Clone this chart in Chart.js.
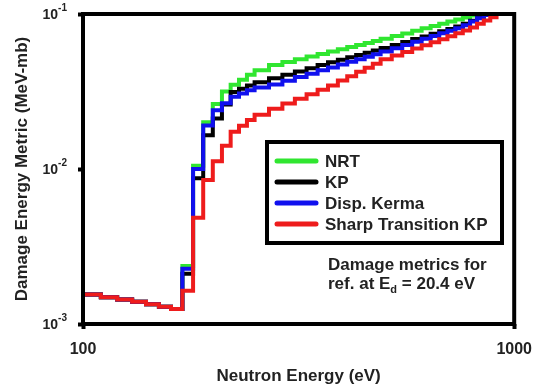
<!DOCTYPE html>
<html>
<head>
<meta charset="utf-8">
<script src="https://cdn.jsdelivr.net/npm/chart.js@4.4.1/dist/chart.umd.min.js"></script>
<style>
  html, body { margin: 0; padding: 0; background: #fff; }
  canvas { display: block; }
</style>
</head>
<body>
<canvas id="chart" width="543" height="387"></canvas>
<script>
// energy bin edges (eV), one more edge than values per series
const energyEdges = [100, 110, 120, 130, 140, 150, 160, 170, 180, 190, 200, 210, 220, 230, 240,
  250, 270, 290, 310, 330, 350, 370, 390, 410, 430, 450, 470, 490,
  520, 550, 580, 610, 640, 670, 700, 730, 760, 790, 820, 850, 880, 910, 940, 970, 1000];

// damage energy metric per bin (MeV-mb)
const nrt = [0.00155, 0.00149, 0.00144, 0.00139, 0.00134, 0.00129, 0.00125,
  0.00237, 0.0105, 0.0200, 0.0263, 0.0316, 0.0350, 0.0377, 0.0406,
  0.0434, 0.0468, 0.0490, 0.0511, 0.0532, 0.0553, 0.0573, 0.0593, 0.0612, 0.0632, 0.0651, 0.0669,
  0.0692, 0.0720, 0.0749, 0.0779, 0.0808, 0.0837, 0.0865, 0.0893, 0.0921, 0.0949, 0.0978, 0.1007, 0.1038, 0.107, 0.110, 0.113, 0.116];
const kp = [0.00155, 0.00149, 0.00144, 0.00139, 0.00134, 0.00129, 0.00125,
  0.00211, 0.0087, 0.0165, 0.0212, 0.0261, 0.0314, 0.0330, 0.0346,
  0.0363, 0.0385, 0.0405, 0.0426, 0.0447, 0.0468, 0.0488, 0.0507, 0.0526, 0.0544, 0.0563, 0.0581,
  0.0603, 0.0631, 0.0660, 0.0689, 0.0717, 0.0745, 0.0773, 0.0801, 0.0829, 0.0864, 0.0905, 0.0947, 0.0989, 0.1030, 0.107, 0.111, 0.115];
const dispKerma = [0.00155, 0.00149, 0.00144, 0.00139, 0.00134, 0.00129, 0.00125,
  0.00227, 0.0100, 0.0191, 0.0239, 0.0266, 0.0292, 0.0307, 0.0322,
  0.0336, 0.0351, 0.0371, 0.0392, 0.0412, 0.0433, 0.0452, 0.0472, 0.0492, 0.0511, 0.0530, 0.0549,
  0.0573, 0.0602, 0.0632, 0.0662, 0.0692, 0.0721, 0.0750, 0.0780, 0.0809, 0.0847, 0.0893, 0.0940, 0.0987, 0.103, 0.107, 0.111, 0.115];
const sharpKp = [0.00155, 0.00149, 0.00144, 0.00139, 0.00134, 0.00129, 0.00125,
  0.00164, 0.00485, 0.0085, 0.0112, 0.0141, 0.0174, 0.0190, 0.0207,
  0.0224, 0.0245, 0.0265, 0.0284, 0.0304, 0.0325, 0.0346, 0.0372, 0.0397, 0.0424, 0.0450, 0.0478,
  0.0511, 0.0540, 0.0569, 0.0599, 0.0628, 0.0657, 0.0687, 0.0719, 0.0751, 0.0782, 0.0819, 0.0864, 0.0908, 0.0954, 0.1000, 0.105, 0.109];

const seriesNames = ['NRT', 'KP', 'Disp. Kerma', 'Sharp Transition KP'];
const xTicks = [100, 1000];
const xTickLabels = ['100', '1000'];
const yTicks = [0.001, 0.01, 0.1];
const yTickExponents = ['-3', '-2', '-1'];

const FONT = "'Liberation Sans', Arial, sans-serif";
const TEXT = '#222';

function toSteps(values) {
  let pts = values.map((v, i) => ({ x: energyEdges[i], y: v }));
  pts.push({ x: energyEdges[values.length], y: values[values.length - 1] });
  return pts;
}

// frame, y tick labels, legend box and note
const decorations = {
  id: 'decorations',
  afterDatasetsDraw(chart) {
    const ctx = chart.ctx;
    const a = chart.chartArea;
    const yScale = chart.scales.y;
    ctx.save();

    ctx.strokeStyle = '#000';
    ctx.lineWidth = 4;
    ctx.strokeRect(a.left, a.top, a.right - a.left, a.bottom - a.top);

    // y tick labels: 10 with superscript exponent
    ctx.fillStyle = TEXT;
    ctx.textBaseline = 'middle';
    yTicks.forEach((v, i) => {
      let y = yScale.getPixelForValue(v);
      ctx.font = 'bold 10px ' + FONT;
      ctx.textAlign = 'left';
      let ew = ctx.measureText(yTickExponents[i]).width;
      ctx.fillText(yTickExponents[i], a.left - 16 - ew, y - 6);
      ctx.font = 'bold 14px ' + FONT;
      ctx.textAlign = 'right';
      ctx.fillText('10', a.left - 16 - ew, y + 1);
    });

    // legend
    let bx = 267, by = 142, bw = 235, bh = 101;
    ctx.fillStyle = '#fff';
    ctx.fillRect(bx, by, bw, bh);
    ctx.lineWidth = 4;
    ctx.strokeStyle = '#000';
    ctx.strokeRect(bx, by, bw, bh);
    ctx.font = 'bold 17px ' + FONT;
    ctx.textAlign = 'left';
    chart.data.datasets.forEach((ds, i) => {
      let y = 161 + i * 21;
      ctx.strokeStyle = ds.borderColor;
      ctx.lineWidth = 5;
      ctx.lineCap = 'round';
      ctx.beginPath();
      ctx.moveTo(277, y);
      ctx.lineTo(316, y);
      ctx.stroke();
      ctx.fillStyle = TEXT;
      ctx.fillText(ds.label, 325, y + 1);
    });

    // note
    ctx.fillStyle = TEXT;
    ctx.font = 'bold 17px ' + FONT;
    ctx.fillText('Damage metrics for', 328, 265);
    let x = 328;
    ctx.fillText('ref. at E', x, 284);
    x += ctx.measureText('ref. at E').width;
    ctx.font = 'bold 11px ' + FONT;
    ctx.fillText('d', x, 290);
    x += ctx.measureText('d').width;
    ctx.font = 'bold 17px ' + FONT;
    ctx.fillText(' = 20.4 eV', x, 284);

    ctx.restore();
  }
};

const colors = ['#30e630', '#000000', '#1010ee', '#ee1c1c'];
const seriesData = [nrt, kp, dispKerma, sharpKp];
const drawOrder = [3, 2, 1, 0];

new Chart(document.getElementById('chart'), {
  type: 'line',
  data: {
    datasets: seriesData.map((vals, i) => ({
      label: seriesNames[i],
      data: toSteps(vals),
      borderColor: colors[i],
      backgroundColor: colors[i],
      borderWidth: 4,
      stepped: true,
      pointRadius: 0,
      fill: false,
      order: drawOrder[i]
    }))
  },
  options: {
    responsive: false,
    animation: false,
    devicePixelRatio: 1,
    layout: { padding: { top: 14, right: 20, left: 0, bottom: 0 } },
    plugins: {
      legend: { display: false },
      tooltip: { enabled: false }
    },
    scales: {
      x: {
        type: 'logarithmic',
        min: 100,
        max: 1000,
        afterBuildTicks: (s) => { s.ticks = xTicks.map(v => ({ value: v })); },
        afterFit: (s) => { s.height = 63; },
        border: { display: false },
        grid: { drawOnChartArea: false, drawTicks: true, tickLength: 5, tickWidth: 4, tickColor: '#000' },
        ticks: {
          autoSkip: false,
          maxRotation: 0,
          padding: 11,
          color: TEXT,
          font: { family: FONT, size: 16, weight: 'bold' },
          callback: (v, i) => xTickLabels[i]
        },
        title: {
          display: true,
          text: 'Neutron Energy (eV)',
          color: TEXT,
          font: { family: FONT, size: 17, weight: 'bold' },
          padding: { top: 0, bottom: 0 }
        }
      },
      y: {
        type: 'logarithmic',
        min: 0.001,
        max: 0.1,
        afterBuildTicks: (s) => { s.ticks = yTicks.map(v => ({ value: v })); },
        afterFit: (s) => { s.width = 83; },
        border: { display: false },
        grid: { drawOnChartArea: false, drawTicks: true, tickLength: 5, tickWidth: 4, tickColor: '#000' },
        ticks: { display: false },
        title: {
          display: true,
          text: 'Damage Energy Metric (MeV-mb)',
          color: TEXT,
          font: { family: FONT, size: 17, weight: 'bold' },
          padding: { top: 12, bottom: 0 }
        }
      }
    }
  },
  plugins: [decorations]
});
</script>
</body>
</html>
